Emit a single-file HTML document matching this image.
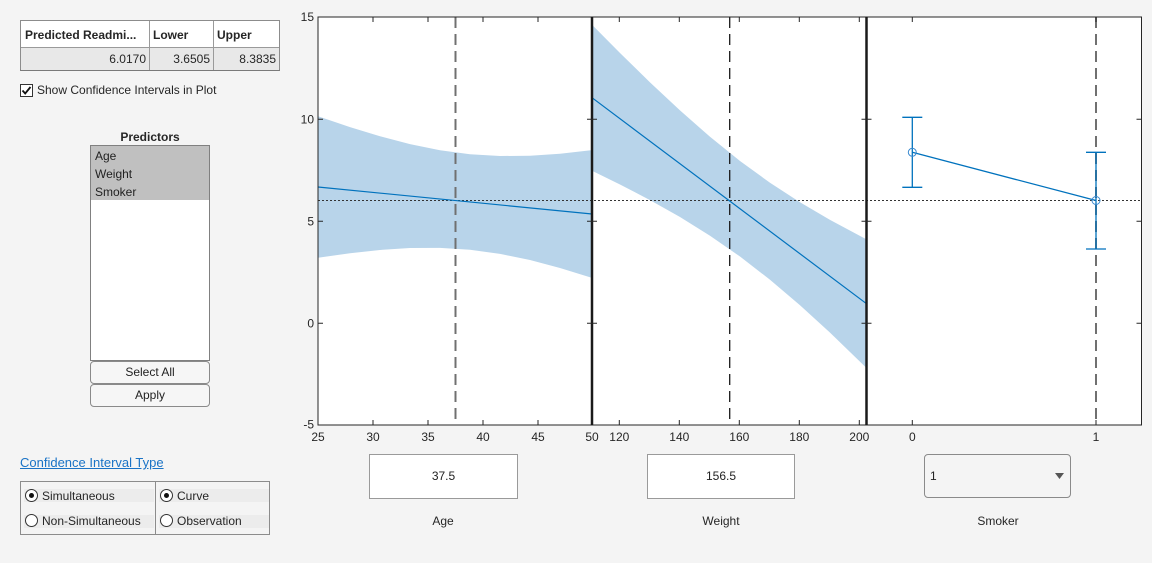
<!DOCTYPE html>
<html><head><meta charset="utf-8">
<style>
*{margin:0;padding:0;box-sizing:border-box}
html,body{width:1152px;height:563px;overflow:hidden;background:#f4f4f4;font-family:"Liberation Sans",Arial,sans-serif;color:#262626;font-size:12px}
.a{position:absolute}
.tbl{left:20px;top:20px;width:260px;height:51px;border:1px solid #8c8c8c;border-bottom:2px solid #7a7a7a;background:#fff}
.cell{position:absolute;line-height:14px;white-space:nowrap}
.btn{left:90px;width:120px;border:1px solid #8a8a8a;border-radius:4px;background:#f6f6f6;text-align:center;font-size:12px;color:#222}
.rb{position:absolute;width:13px;height:13px;border:1px solid #333;border-radius:50%;background:#fff}
.rb.on::after{content:"";position:absolute;left:3px;top:3px;width:5px;height:5px;border-radius:50%;background:#111}
.band{position:absolute;background:#ececec;height:13px}
.lbl{position:absolute;font-size:12px;line-height:14px;white-space:nowrap}
.box{position:absolute;background:#fff;border:1px solid #9a9a9a;text-align:center;font-size:12px;line-height:43px;color:#222}
</style></head><body>

<!-- table -->
<div class="a tbl">
  <div class="a" style="left:0;top:26px;width:258px;height:23px;background:#e8e8e8;border-top:1px solid #9a9a9a"></div>
  <div class="a" style="left:128px;top:0;width:1px;height:49px;background:#9a9a9a"></div>
  <div class="a" style="left:192px;top:0;width:1px;height:49px;background:#9a9a9a"></div>
  <div class="cell" style="left:4px;top:7px;font-weight:bold;">Predicted Readmi...</div>
  <div class="cell" style="left:132px;top:7px;font-weight:bold;">Lower</div>
  <div class="cell" style="left:196px;top:7px;font-weight:bold;">Upper</div>
  <div class="cell" style="left:0;width:125px;text-align:right;top:31px;">6.0170</div>
  <div class="cell" style="left:129px;width:60px;text-align:right;top:31px;">3.6505</div>
  <div class="cell" style="left:193px;width:62px;text-align:right;top:31px;">8.3835</div>
</div>

<!-- checkbox -->
<div class="a" style="left:20px;top:84px;width:13px;height:13px;border:1px solid #333;background:#fff"></div>
<svg class="a" style="left:20px;top:84px" width="13" height="13"><polyline points="2.5,6.5 5.2,9.5 10.5,3" fill="none" stroke="#111" stroke-width="1.8"/></svg>
<div class="lbl" style="left:37px;top:83px;">Show Confidence Intervals in Plot</div>

<!-- predictors -->
<div class="lbl" style="left:90px;width:120px;text-align:center;top:130px;font-weight:bold;">Predictors</div>
<div class="a" style="left:90px;top:145px;width:120px;height:216px;border:1px solid #808080;background:#fff">
  <div class="a" style="left:0;top:0;width:118px;height:54px;background:#c0c0c0"></div>
  <div class="lbl" style="left:4px;top:3px;color:#222">Age</div>
  <div class="lbl" style="left:4px;top:21px;color:#222">Weight</div>
  <div class="lbl" style="left:4px;top:39px;color:#222">Smoker</div>
</div>
<div class="a btn" style="top:361px;height:23px;line-height:21px;">Select All</div>
<div class="a btn" style="top:384px;height:23px;line-height:21px;">Apply</div>

<!-- CI type -->
<div class="lbl" style="left:20px;top:455px;font-size:13px;line-height:15px;color:#1a73c6;text-decoration:underline;">Confidence Interval Type</div>
<div class="a" style="left:20px;top:481px;width:136px;height:54px;border:1px solid #8c8c8c"></div>
<div class="a" style="left:155px;top:481px;width:115px;height:54px;border:1px solid #8c8c8c"></div>
<div class="band" style="left:24px;top:489px;width:130px;"></div>
<div class="band" style="left:24px;top:515px;width:130px;"></div>
<div class="band" style="left:159px;top:489px;width:110px;"></div>
<div class="band" style="left:159px;top:515px;width:110px;"></div>
<div class="rb on" style="left:25px;top:489px;"></div>
<div class="rb" style="left:25px;top:514px;"></div>
<div class="rb on" style="left:160px;top:489px;"></div>
<div class="rb" style="left:160px;top:514px;"></div>
<div class="lbl" style="left:42px;top:489px;">Simultaneous</div>
<div class="lbl" style="left:42px;top:514px;">Non-Simultaneous</div>
<div class="lbl" style="left:177px;top:489px;">Curve</div>
<div class="lbl" style="left:177px;top:514px;">Observation</div>

<!-- bottom controls -->
<div class="box" style="left:369px;top:454px;width:149px;height:45px;">37.5</div>
<div class="box" style="left:647px;top:454px;width:148px;height:45px;">156.5</div>
<div class="a" style="left:924px;top:454px;width:147px;height:44px;border:1px solid #8a8a8a;border-radius:4px;background:#f4f4f4"></div>
<div class="lbl" style="left:930px;top:469px;color:#222">1</div>
<svg class="a" style="left:1054px;top:472px" width="12" height="8"><polygon points="1,1 10,1 5.5,7" fill="#555"/></svg>
<div class="lbl" style="left:383px;width:120px;text-align:center;top:514px;">Age</div>
<div class="lbl" style="left:661px;width:120px;text-align:center;top:514px;">Weight</div>
<div class="lbl" style="left:938px;width:120px;text-align:center;top:514px;">Smoker</div>

<!-- chart -->
<svg class="a" style="left:0;top:0" width="1152" height="563" font-family="Liberation Sans, Arial, sans-serif" font-size="12">
  <rect x="318" y="17" width="823.5" height="408" fill="#fff"/>
  <!-- bands -->
  <polygon fill="#b8d4ea" points="318,116.2 350,127.07 380,136.26 410,144.11 440,150.21 470,154.23 500,156.02 530,155.74 560,153.74 592,150.15 592,277.85 560,267.96 530,260.04 500,253.84 470,249.73 440,247.83 410,248.03 380,249.96 350,253.23 318,257.8"/>
  <polygon fill="#b8d4ea" points="592,24.7 620,52.97 650,82.34 680,110.43 710,136.77 740,160.96 770,182.77 800,202.29 830,219.9 866,239.11 866,367.49 830,332.68 800,305.25 770,279.75 740,256.54 710,235.71 680,217.03 650,200.1 620,184.45 592,170.7"/>
  <!-- dashed verticals -->
  <line x1="455.5" y1="17" x2="455.5" y2="425" stroke="#707070" stroke-width="2" stroke-dasharray="11,6"/>
  <line x1="729.7" y1="17" x2="729.7" y2="425" stroke="#1a1a1a" stroke-width="1.3" stroke-dasharray="11,6"/>
  <line x1="1096" y1="17" x2="1096" y2="425" stroke="#707070" stroke-width="2" stroke-dasharray="11,6"/>
  <!-- dotted horizontal -->
  <line x1="318" y1="200.5" x2="1141.5" y2="200.5" stroke="#333" stroke-width="1" stroke-dasharray="2,2"/>
  <!-- fit lines -->
  <line x1="318" y1="187" x2="592" y2="214" stroke="#0072BD" stroke-width="1.2"/>
  <line x1="592" y1="97.7" x2="866" y2="303.3" stroke="#0072BD" stroke-width="1.2"/>
  <!-- smoker -->
  <g stroke="#0072BD" stroke-width="1.3" fill="none">
    <line x1="912.3" y1="117.3" x2="912.3" y2="187.3"/>
    <line x1="902.3" y1="117.3" x2="922.3" y2="117.3"/>
    <line x1="902.3" y1="187.3" x2="922.3" y2="187.3"/>
    <line x1="1096" y1="152.3" x2="1096" y2="249"/>
    <line x1="1086" y1="152.3" x2="1106" y2="152.3"/>
    <line x1="1086" y1="249" x2="1106" y2="249"/>
    <line x1="912.3" y1="152.3" x2="1096" y2="200.5"/>
  </g>
  <g stroke="#3a8ad0" stroke-width="1" fill="none">
    <circle cx="912.3" cy="152.3" r="4"/>
    <circle cx="1096" cy="200.5" r="4"/>
  </g>
  <!-- axes box -->
  <rect x="318" y="17" width="823.5" height="408" fill="none" stroke="#262626" stroke-width="1"/>
  <line x1="592" y1="17" x2="592" y2="425" stroke="#1a1a1a" stroke-width="2.5"/>
  <line x1="866.5" y1="17" x2="866.5" y2="425" stroke="#1a1a1a" stroke-width="2.5"/>
  <!-- ticks -->
  <g stroke="#262626" stroke-width="1">
    <path d="M318,119.3h5M318,221.3h5M318,323.3h5
             M587,119.3h10M587,221.3h10M587,323.3h10
             M861.5,119.3h10M861.5,221.3h10M861.5,323.3h10
             M1136.5,119.3h5M1136.5,221.3h5M1136.5,323.3h5"/>
    <path d="M373,17v5M428,17v5M483,17v5M538,17v5M619.3,17v5M679.3,17v5M739.3,17v5M799.3,17v5M859.3,17v5M912.3,17v5M1096,17v5
             M373,425v-5M428,425v-5M483,425v-5M538,425v-5M619.3,425v-5M679.3,425v-5M739.3,425v-5M799.3,425v-5M859.3,425v-5M912.3,425v-5M1096,425v-5"/>
  </g>
  <!-- y labels -->
  <g fill="#262626" text-anchor="end">
    <text x="314" y="21">15</text>
    <text x="314" y="123.5">10</text>
    <text x="314" y="225.5">5</text>
    <text x="314" y="327.5">0</text>
    <text x="314" y="428.5">-5</text>
  </g>
  <!-- x labels -->
  <g fill="#262626" text-anchor="middle">
    <text x="318" y="441">25</text>
    <text x="373" y="441">30</text>
    <text x="428" y="441">35</text>
    <text x="483" y="441">40</text>
    <text x="538" y="441">45</text>
    <text x="592" y="441">50</text>
    <text x="619.3" y="441">120</text>
    <text x="679.3" y="441">140</text>
    <text x="739.3" y="441">160</text>
    <text x="799.3" y="441">180</text>
    <text x="859.3" y="441">200</text>
    <text x="912.3" y="441">0</text>
    <text x="1096" y="441">1</text>
  </g>
</svg>
</body></html>
